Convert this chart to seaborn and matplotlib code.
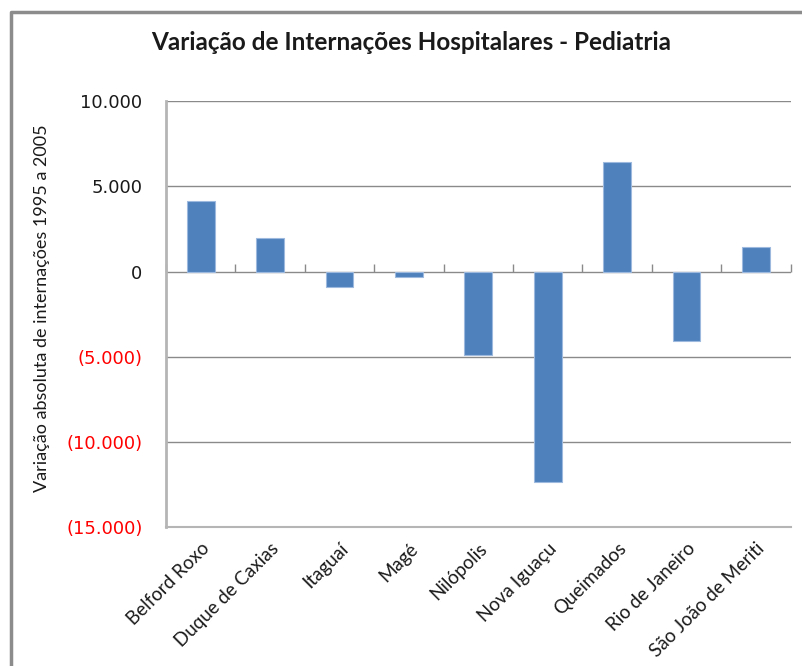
import matplotlib
matplotlib.use("Agg")
import matplotlib.pyplot as plt
import matplotlib.ticker as mticker
from matplotlib.lines import Line2D
import seaborn as sns
import pandas as pd

# data
municipios = [
    "Belford Roxo",
    "Duque de Caxias",
    "Itaguaí",
    "Magé",
    "Nilópolis",
    "Nova Iguaçu",
    "Queimados",
    "Rio de Janeiro",
    "São João de Meriti",
]
variacao = [4160, 1960, -880, -350, -4870, -12350, 6420, -4070, 1410]
y_ticks = [-15000, -10000, -5000, 0, 5000, 10000]

df = pd.DataFrame({"Municipio": municipios, "Variacao": variacao})

sns.set_theme(style="white")
plt.rcParams["font.family"] = ["Lato", "DejaVu Sans"]

fig = plt.figure(figsize=(8.02, 6.66), dpi=100)
ax = fig.add_axes([166 / 802, 1 - 527.3 / 666, (790.7 - 166) / 802, (527.3 - 101) / 666])

sns.barplot(data=df, x="Municipio", y="Variacao", color="#4F81BD",
            saturation=1, width=0.4, edgecolor="#9DB9DE", linewidth=0.8, ax=ax)

ax.set_ylim(-15000, 10000)
ax.set_xlim(-0.5, len(municipios) - 0.5)
ax.set_yticks(y_ticks)


def fmt(v, pos):
    s = f"{abs(int(v)):,}".replace(",", ".")
    return f"({s})" if v < 0 else s


ax.yaxis.set_major_formatter(mticker.FuncFormatter(fmt))
for lbl, v in zip(ax.get_yticklabels(), y_ticks):
    lbl.set_color("#FF0000" if v < 0 else "#1a1a1a")
    lbl.set_fontfamily(["DejaVu Sans"])
ax.tick_params(axis="y", labelsize=13, length=7, width=1, color="#8a8a8a",
               direction="out", pad=10)
ax.yaxis.grid(True, color="#8a8a8a", linewidth=1)
ax.set_axisbelow(True)

ax.spines["top"].set_visible(False)
ax.spines["right"].set_visible(False)
ax.spines["left"].set_color("#b5b5b5")
ax.spines["left"].set_linewidth(2)
ax.spines["bottom"].set_color("#b5b5b5")
ax.spines["bottom"].set_linewidth(1.5)

# category labels at the bottom of the plot area
ax.tick_params(axis="x", length=0, labelsize=13.5, pad=9)
plt.setp(ax.get_xticklabels(), rotation=45, ha="right", rotation_mode="anchor",
         color="#1a1a1a")
ax.set_xlabel("")

# horizontal axis line at zero with tick marks between categories
zero_axis = ax.secondary_xaxis(0.6)
zero_axis.set_xticks([i + 0.5 for i in range(-1, len(municipios))])
zero_axis.tick_params(axis="x", length=6, width=1, color="#8a8a8a",
                      direction="out", labelbottom=False, labeltop=False)
zero_axis.spines["bottom"].set_color("#b5b5b5")
zero_axis.spines["bottom"].set_linewidth(1.5)
zero_axis.spines["top"].set_visible(False)

ax.set_ylabel("")
fig.text(42 / 802, 1 - 308 / 666, "Variação absoluta de internações 1995 a 2005",
         rotation=90, ha="center", va="center", fontsize=13,
         family=["Liberation Sans Narrow", "Lato", "DejaVu Sans"], color="#1a1a1a")

fig.text(411 / 802, 1 - 42 / 666, "Variação de Internações Hospitalares - Pediatria",
         ha="center", va="center", fontsize=17.5, fontweight="bold", color="#1a1a1a")

# chart frame (only top and left edges are inside the image)
fig.add_artist(Line2D([11 / 802, 11 / 802, 1], [0, 1 - 12 / 666, 1 - 12 / 666],
                      transform=fig.transFigure, color="#8c8c8c", linewidth=2.5))

fig.savefig("out.png", dpi=100)
